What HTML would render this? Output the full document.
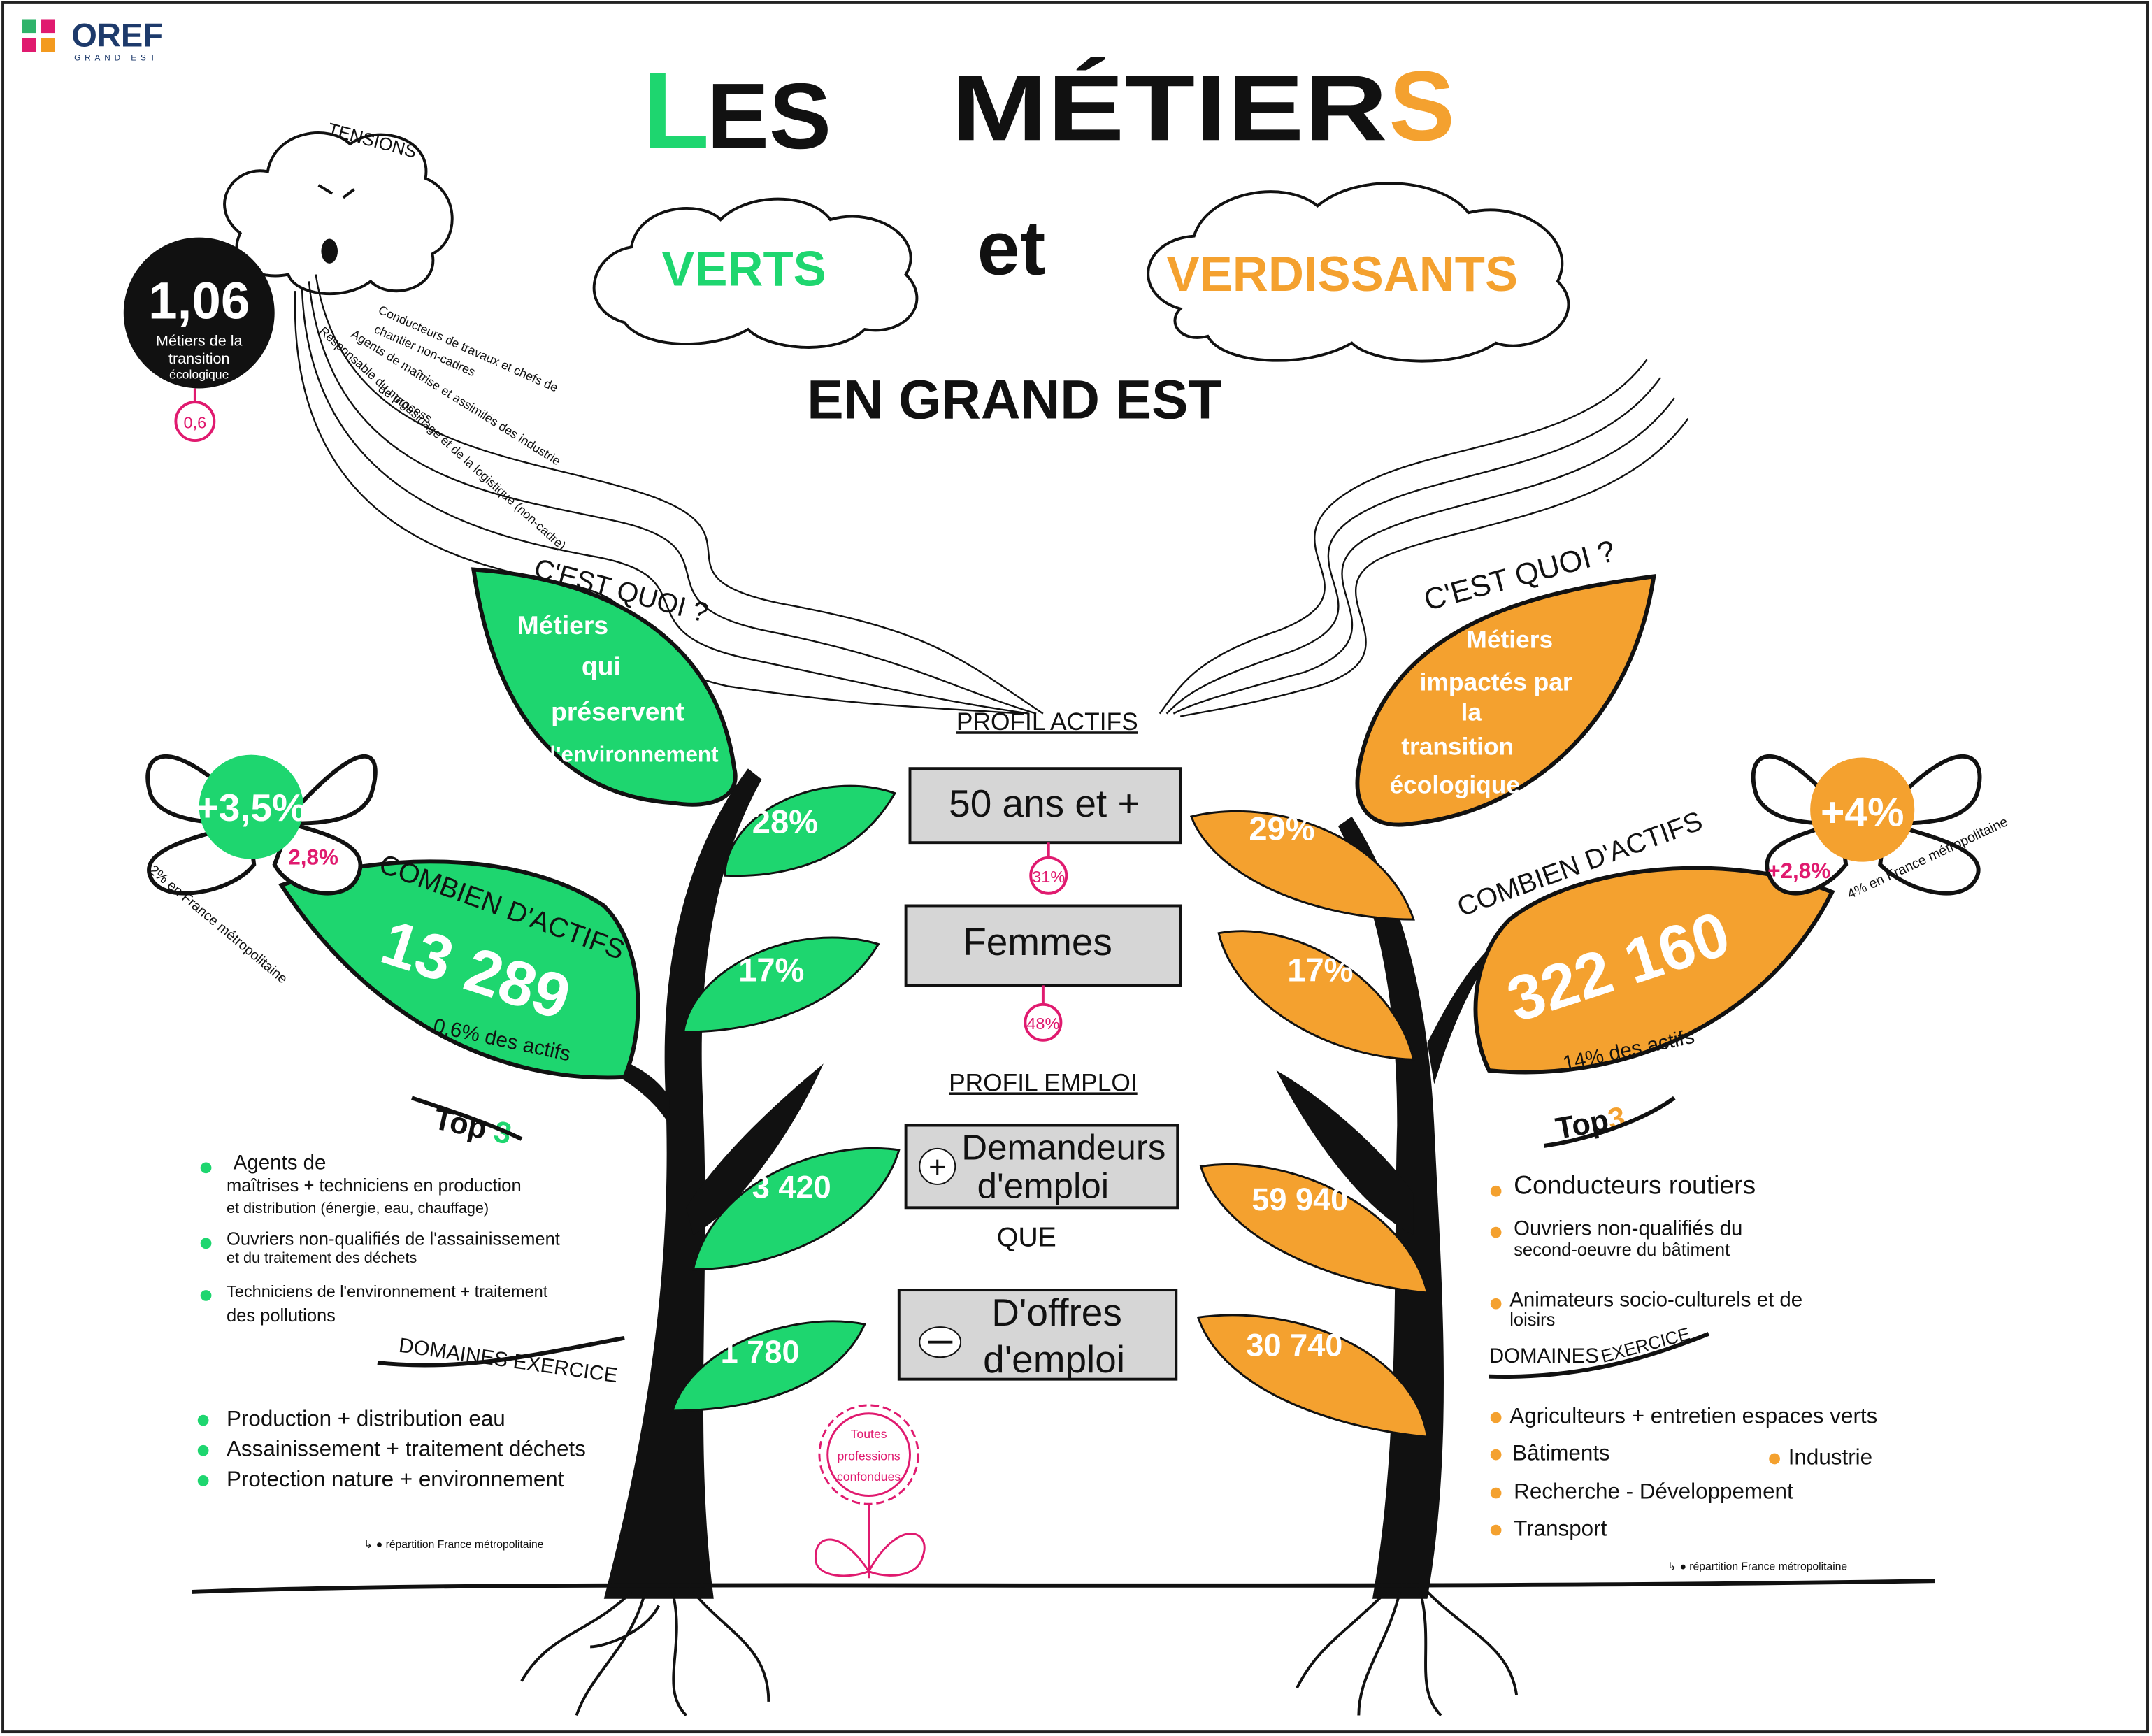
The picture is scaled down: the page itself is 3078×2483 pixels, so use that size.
<!DOCTYPE html>
<html><head><meta charset="utf-8">
<style>
html,body{margin:0;padding:0;background:#fff;}
svg{display:block;}
text{font-family:"Liberation Sans",sans-serif;}
</style></head>
<body>
<svg width="3078" height="2483" viewBox="0 0 1568 1265" xmlns="http://www.w3.org/2000/svg">
<rect x="0" y="0" width="1568" height="1265" fill="#fff"/>
<rect x="2" y="2" width="1563" height="1260" fill="none" stroke="#222" stroke-width="2"/>

<!-- logo -->
<rect x="16" y="14" width="10" height="10" fill="#2fb36a"/>
<rect x="30" y="14" width="10" height="10" fill="#e01a6f"/>
<rect x="16" y="28" width="10" height="10" fill="#e01a6f"/>
<rect x="30" y="28" width="10" height="10" fill="#f39a1e"/>
<text x="52" y="34" font-size="24" font-weight="bold" fill="#1d3a6b">OREF</text>
<text x="54" y="44" font-size="6" fill="#1d3a6b" letter-spacing="3">GRAND EST</text>

<!-- title -->
<text x="468" y="108" font-size="80" font-weight="bold" fill="#1ed66f">L</text>
<text x="515" y="108" font-size="68" font-weight="bold" fill="#111">ES</text>
<text x="693" y="102" font-size="68" font-weight="bold" fill="#111" textLength="318" lengthAdjust="spacingAndGlyphs">MÉTIER</text>
<text x="1012" y="102" font-size="72" font-weight="bold" fill="#f4a12f">S</text>

<!-- clouds -->
<path d="M455 235 C420 225 430 185 460 180 C465 150 510 145 525 160 C545 140 590 140 605 160 C640 150 675 175 660 200 C680 220 660 245 630 240 C610 260 560 255 545 240 C520 255 470 255 455 235 Z" fill="#fff" stroke="#111" stroke-width="2"/>
<text x="482" y="208" font-size="36" font-weight="bold" fill="#1ed66f">VERTS</text>
<text x="712" y="200" font-size="56" font-weight="bold" fill="#111">et</text>
<path d="M860 225 C825 215 830 175 870 172 C880 140 935 130 960 150 C990 125 1050 130 1070 155 C1110 145 1150 175 1135 205 C1160 230 1120 260 1090 250 C1060 270 1000 265 985 250 C950 270 890 265 880 245 C860 250 850 235 860 225 Z" fill="#fff" stroke="#111" stroke-width="2"/>
<text x="850" y="212" font-size="36" font-weight="bold" fill="#f4a12f">VERDISSANTS</text>
<text x="588" y="305" font-size="40" font-weight="bold" fill="#111">EN GRAND EST</text>

<!-- tension cloud -->
<path d="M175 170 C150 150 170 120 195 125 C200 95 240 90 255 105 C275 90 315 100 310 130 C335 140 335 175 315 185 C320 210 285 220 270 205 C250 220 215 215 210 200 C185 205 165 190 175 170 Z" fill="#fff" stroke="#111" stroke-width="2"/>
<text x="238" y="98" font-size="13" fill="#111" transform="rotate(15 238 98)">TENSIONS</text>
<ellipse cx="240" cy="183" rx="6" ry="9" fill="#111"/>
<path d="M232 135 l10 6 M258 138 l-8 6" stroke="#111" stroke-width="2"/>

<!-- wavy lines -->
<g fill="none" stroke="#111" stroke-width="1.2">
<path d="M230 200 C250 330 380 330 470 360 C560 390 470 420 570 440 C680 460 700 480 760 520"/>
<path d="M225 205 C240 350 360 360 450 380 C540 400 460 440 560 460 C660 480 690 500 755 520"/>
<path d="M220 210 C225 360 350 390 430 405 C520 420 450 460 545 480 C640 500 680 510 750 520"/>
<path d="M215 212 C210 380 330 410 410 425 C490 440 440 480 530 500 C630 515 670 515 745 520"/>
<path d="M1200 262 C1150 330 1040 320 980 360 C920 400 1010 430 930 460 C870 480 860 500 845 520"/>
<path d="M1210 275 C1160 345 1050 340 990 375 C930 410 1020 445 940 475 C880 495 865 505 850 520"/>
<path d="M1220 290 C1170 360 1060 360 1000 390 C940 420 1030 460 950 490 C895 505 870 512 855 520"/>
<path d="M1230 305 C1180 375 1070 380 1010 405 C950 430 1040 475 960 500 C905 515 880 518 860 522"/>
</g>
<g font-size="9" fill="#111">
<text x="275" y="228" transform="rotate(24 275 228)">Conducteurs de travaux et chefs de</text>
<text x="272" y="242" transform="rotate(24 272 242)">chantier non-cadres</text>
<text x="255" y="245" transform="rotate(32 255 245)">Agents de maîtrise et assimilés des industrie</text>
<text x="275" y="285" transform="rotate(32 275 285)">de process</text>
<text x="232" y="242" transform="rotate(42 232 242)">Responsable du magasinage et de la logistique (non-cadre)</text>
</g>

<!-- black circle -->
<circle cx="145" cy="228" r="55" fill="#111"/>
<text x="145" y="232" font-size="38" font-weight="bold" fill="#fff" text-anchor="middle">1,06</text>
<text x="145" y="252" font-size="11" fill="#fff" text-anchor="middle">Métiers de la</text>
<text x="145" y="265" font-size="11" fill="#fff" text-anchor="middle">transition</text>
<text x="145" y="276" font-size="9" fill="#fff" text-anchor="middle">écologique</text>
<line x1="142" y1="283" x2="142" y2="293" stroke="#e01a6f" stroke-width="2"/>
<circle cx="142" cy="307" r="14" fill="#fff" stroke="#e01a6f" stroke-width="2"/>
<text x="142" y="312" font-size="12" fill="#e01a6f" text-anchor="middle">0,6</text>

<!-- trunks -->
<path d="M440 1165 C470 1050 490 930 485 800 C480 700 500 620 545 560 L555 568 C520 630 508 710 512 800 C518 930 505 1050 520 1165 Z" fill="#111"/>
<path d="M488 800 C470 770 420 760 390 760 C430 770 470 790 488 820 Z" fill="#111"/>
<path d="M505 900 C540 880 580 820 600 775 C570 800 525 840 500 880 Z" fill="#111"/>
<path d="M1040 1165 C1060 1050 1050 930 1045 820 C1040 720 1020 650 985 595 L975 602 C1005 660 1018 730 1018 820 C1015 930 1020 1050 1000 1165 Z" fill="#111"/>
<path d="M1040 760 C1060 720 1080 690 1100 680 C1080 700 1060 740 1045 790 Z" fill="#111"/>
<path d="M1030 900 C990 880 950 820 930 780 C965 800 1010 840 1030 870 Z" fill="#111"/>

<!-- ground & roots -->
<path d="M140 1160 C400 1150 900 1160 1410 1152" stroke="#111" stroke-width="3" fill="none"/>
<g stroke="#111" stroke-width="2" fill="none">
<path d="M460 1160 C430 1190 400 1190 380 1225 M470 1160 C460 1200 430 1220 420 1250 M490 1160 C500 1200 480 1230 500 1250 M505 1160 C530 1190 560 1200 560 1240 M480 1170 C470 1190 440 1200 430 1200"/>
<path d="M1010 1160 C980 1190 960 1200 945 1230 M1020 1160 C1010 1200 990 1220 990 1250 M1035 1160 C1045 1200 1030 1230 1050 1250 M1040 1160 C1070 1190 1100 1200 1105 1235"/>
</g>

<!-- left leaves -->
<path d="M345 415 C420 420 520 450 535 560 C540 580 520 590 490 585 C410 580 360 520 345 415 Z" fill="#1ed66f" stroke="#111" stroke-width="3"/>
<g font-size="19" font-weight="bold" fill="#fff" text-anchor="middle">
<text x="410" y="462">Métiers</text><text x="438" y="492">qui</text><text x="450" y="525">préservent</text><text x="462" y="555" font-size="16">l'environnement</text></g>
<text x="388" y="420" font-size="20" fill="#111" transform="rotate(15 388 420)">C'EST QUOI ?</text>
<path d="M205 645 C280 620 380 620 440 660 C470 690 470 750 455 785 C350 790 260 730 205 645 Z" fill="#1ed66f" stroke="#111" stroke-width="3"/>
<text x="275" y="700" font-size="46" font-weight="bold" fill="#fff" transform="rotate(18 275 700)">13 289</text>
<text x="315" y="752" font-size="15" fill="#111" transform="rotate(12 315 752)">0,6% des actifs</text>
<text x="275" y="635" font-size="20" fill="#111" transform="rotate(20 275 635)">COMBIEN D'ACTIFS</text>
<path d="M528 638 C530 590 600 560 652 578 C625 625 575 640 528 638 Z" fill="#1ed66f" stroke="#111" stroke-width="1.5"/>
<text x="548" y="607" font-size="24" font-weight="bold" fill="#fff">28%</text>
<path d="M498 752 C505 705 580 670 640 688 C615 730 560 752 498 752 Z" fill="#1ed66f" stroke="#111" stroke-width="1.5"/>
<text x="538" y="715" font-size="24" font-weight="bold" fill="#fff">17%</text>
<path d="M505 925 C520 860 600 830 655 838 C640 890 570 925 505 925 Z" fill="#1ed66f" stroke="#111" stroke-width="1.5"/>
<text x="548" y="873" font-size="23" font-weight="bold" fill="#fff">3 420</text>
<path d="M490 1028 C505 980 580 955 630 965 C610 1010 550 1028 490 1028 Z" fill="#1ed66f" stroke="#111" stroke-width="1.5"/>
<text x="525" y="993" font-size="23" font-weight="bold" fill="#fff">1 780</text>

<!-- right leaves -->
<path d="M1205 420 C1130 430 1010 450 990 560 C985 590 1000 605 1030 600 C1120 590 1190 520 1205 420 Z" fill="#f4a12f" stroke="#111" stroke-width="3"/>
<g font-size="18" font-weight="bold" fill="#fff" text-anchor="middle">
<text x="1100" y="472">Métiers</text><text x="1090" y="503">impactés par</text><text x="1072" y="525">la</text><text x="1062" y="550">transition</text><text x="1060" y="578">écologique</text></g>
<text x="1040" y="445" font-size="22" fill="#111" transform="rotate(-15 1040 445)">C'EST QUOI ?</text>
<path d="M1335 650 C1260 620 1150 630 1100 670 C1070 700 1070 750 1085 780 C1190 790 1290 740 1335 650 Z" fill="#f4a12f" stroke="#111" stroke-width="3"/>
<text x="1105" y="745" font-size="46" font-weight="bold" fill="#fff" transform="rotate(-18 1105 745)">322 160</text>
<text x="1140" y="780" font-size="15" fill="#111" transform="rotate(-12 1140 780)">14% des actifs</text>
<text x="1065" y="668" font-size="20" fill="#111" transform="rotate(-20 1065 668)">COMBIEN D'ACTIFS</text>
<path d="M1030 670 C1010 610 930 580 868 595 C885 640 960 670 1030 670 Z" fill="#f4a12f" stroke="#111" stroke-width="1.5"/>
<text x="910" y="612" font-size="24" font-weight="bold" fill="#fff">29%</text>
<path d="M1030 772 C1015 710 940 670 888 680 C900 730 965 770 1030 772 Z" fill="#f4a12f" stroke="#111" stroke-width="1.5"/>
<text x="938" y="715" font-size="24" font-weight="bold" fill="#fff">17%</text>
<path d="M1040 942 C1025 880 940 840 875 850 C890 900 965 935 1040 942 Z" fill="#f4a12f" stroke="#111" stroke-width="1.5"/>
<text x="912" y="882" font-size="23" font-weight="bold" fill="#fff">59 940</text>
<path d="M1040 1047 C1030 985 945 950 873 960 C890 1010 965 1040 1040 1047 Z" fill="#f4a12f" stroke="#111" stroke-width="1.5"/>
<text x="908" y="988" font-size="23" font-weight="bold" fill="#fff">30 740</text>

<!-- center -->
<text x="763" y="532" font-size="18" fill="#111" text-anchor="middle" text-decoration="underline">PROFIL ACTIFS</text>
<rect x="663" y="560" width="197" height="54" fill="#d6d6d6" stroke="#111" stroke-width="2"/>
<text x="761" y="595" font-size="28" fill="#111" text-anchor="middle">50 ans et +</text>
<line x1="764" y1="614" x2="764" y2="625" stroke="#e01a6f" stroke-width="2"/>
<circle cx="764" cy="638" r="13" fill="#fff" stroke="#e01a6f" stroke-width="2"/>
<text x="764" y="643" font-size="12" fill="#e01a6f" text-anchor="middle">31%</text>
<rect x="660" y="660" width="200" height="58" fill="#d6d6d6" stroke="#111" stroke-width="2"/>
<text x="756" y="696" font-size="28" fill="#111" text-anchor="middle">Femmes</text>
<line x1="760" y1="718" x2="760" y2="732" stroke="#e01a6f" stroke-width="2"/>
<circle cx="760" cy="745" r="13" fill="#fff" stroke="#e01a6f" stroke-width="2"/>
<text x="760" y="750" font-size="12" fill="#e01a6f" text-anchor="middle">48%</text>
<text x="760" y="795" font-size="18" fill="#111" text-anchor="middle" text-decoration="underline">PROFIL EMPLOI</text>
<rect x="660" y="820" width="198" height="60" fill="#d6d6d6" stroke="#111" stroke-width="2"/>
<circle cx="683" cy="850" r="13" fill="#fff" stroke="#111" stroke-width="1"/>
<text x="683" y="858" font-size="22" fill="#111" text-anchor="middle">+</text>
<text x="775" y="845" font-size="26" fill="#111" text-anchor="middle">Demandeurs</text>
<text x="760" y="873" font-size="26" fill="#111" text-anchor="middle">d'emploi</text>
<text x="748" y="908" font-size="20" fill="#111" text-anchor="middle">QUE</text>
<rect x="655" y="940" width="202" height="65" fill="#d6d6d6" stroke="#111" stroke-width="2"/>
<ellipse cx="685" cy="978" rx="15" ry="11" fill="#fff" stroke="#111"/>
<line x1="676" y1="978" x2="694" y2="978" stroke="#111" stroke-width="2"/>
<text x="770" y="966" font-size="28" fill="#111" text-anchor="middle">D'offres</text>
<text x="768" y="1000" font-size="28" fill="#111" text-anchor="middle">d'emploi</text>

<!-- butterflies -->
<g stroke="#111" stroke-width="3" fill="#fff">
<path d="M180 590 C120 530 100 550 110 580 C120 600 160 600 180 600 C140 610 100 620 110 640 C120 660 170 650 185 630 Z"/>
<path d="M215 590 C270 530 280 550 270 580 C260 600 230 600 210 600 C250 610 270 620 260 640 C250 660 210 650 200 630 Z"/>
<path d="M1340 590 C1290 530 1270 550 1280 580 C1290 600 1320 600 1340 600 C1300 610 1280 620 1290 640 C1300 660 1330 650 1345 630 Z"/>
<path d="M1375 590 C1430 530 1450 550 1440 580 C1430 600 1400 600 1375 600 C1410 610 1450 620 1440 640 C1430 660 1390 650 1370 630 Z"/>
</g>
<circle cx="183" cy="588" r="38" fill="#1ed66f"/>
<text x="183" y="598" font-size="28" font-weight="bold" fill="#fff" text-anchor="middle">+3,5%</text>
<text x="210" y="630" font-size="16" font-weight="bold" fill="#e01a6f">2,8%</text>
<text x="108" y="635" font-size="10" fill="#111" transform="rotate(40 108 635)">2% en France métropolitaine</text>
<circle cx="1357" cy="590" r="38" fill="#f4a12f"/>
<text x="1357" y="602" font-size="30" font-weight="bold" fill="#fff" text-anchor="middle">+4%</text>
<text x="1288" y="640" font-size="16" font-weight="bold" fill="#e01a6f">+2,8%</text>
<text x="1348" y="655" font-size="10" fill="#111" transform="rotate(-25 1348 655)">4% en France métropolitaine</text>

<!-- left lists -->
<text x="315" y="822" font-size="22" font-weight="bold" fill="#111" transform="rotate(12 315 822)">Top <tspan fill="#1ed66f">3</tspan></text>
<path d="M300 800 C330 810 360 820 380 830" stroke="#111" stroke-width="3" fill="none"/>
<g font-size="13" fill="#111">
<circle cx="150" cy="851" r="4" fill="#1ed66f"/>
<text x="170" y="852" font-size="15">Agents de</text>
<text x="165" y="868">maîtrises + techniciens en production</text>
<text x="165" y="884" font-size="11">et distribution (énergie, eau, chauffage)</text>
<circle cx="150" cy="906" r="4" fill="#1ed66f"/>
<text x="165" y="907">Ouvriers non-qualifiés de l'assainissement</text>
<text x="165" y="920" font-size="11">et du traitement des déchets</text>
<circle cx="150" cy="944" r="4" fill="#1ed66f"/>
<text x="165" y="945" font-size="12">Techniciens de l'environnement + traitement</text>
<text x="165" y="963">des pollutions</text>
</g>
<text x="290" y="985" font-size="15" fill="#111" transform="rotate(8 290 985)">DOMAINES EXERCICE</text>
<path d="M275 993 C340 1000 400 985 455 975" stroke="#111" stroke-width="3" fill="none"/>
<g font-size="16" fill="#111">
<circle cx="148" cy="1035" r="4" fill="#1ed66f"/><text x="165" y="1039">Production + distribution eau</text>
<circle cx="148" cy="1057" r="4" fill="#1ed66f"/><text x="165" y="1061">Assainissement + traitement déchets</text>
<circle cx="148" cy="1079" r="4" fill="#1ed66f"/><text x="165" y="1083">Protection nature + environnement</text>
</g>
<text x="265" y="1128" font-size="8" fill="#111">↳ ● répartition France métropolitaine</text>

<!-- right lists -->
<text x="1135" y="830" font-size="22" font-weight="bold" fill="#111" transform="rotate(-10 1135 830)">Top<tspan fill="#f4a12f">3</tspan></text>
<path d="M1125 835 C1160 830 1200 815 1220 800" stroke="#111" stroke-width="3" fill="none"/>
<g font-size="15" fill="#111">
<circle cx="1090" cy="868" r="4" fill="#f4a12f"/><text x="1103" y="870" font-size="19">Conducteurs routiers</text>
<circle cx="1090" cy="898" r="4" fill="#f4a12f"/><text x="1103" y="900">Ouvriers non-qualifiés du</text>
<text x="1103" y="915" font-size="13">second-oeuvre du bâtiment</text>
<circle cx="1090" cy="950" r="4" fill="#f4a12f"/><text x="1100" y="952">Animateurs socio-culturels et de</text>
<text x="1100" y="966" font-size="13">loisirs</text>
</g>
<text x="1085" y="993" font-size="15" fill="#111">DOMAINES</text>
<text x="1168" y="993" font-size="13" fill="#111" transform="rotate(-15 1168 993)">EXERCICE</text>
<path d="M1085 1003 C1150 1005 1200 990 1245 972" stroke="#111" stroke-width="3" fill="none"/>
<g font-size="16" fill="#111">
<circle cx="1090" cy="1033" r="4" fill="#f4a12f"/><text x="1100" y="1037">Agriculteurs + entretien espaces verts</text>
<circle cx="1090" cy="1060" r="4" fill="#f4a12f"/><text x="1102" y="1064">Bâtiments</text>
<circle cx="1293" cy="1063" r="4" fill="#f4a12f"/><text x="1303" y="1067">Industrie</text>
<circle cx="1090" cy="1088" r="4" fill="#f4a12f"/><text x="1103" y="1092">Recherche - Développement</text>
<circle cx="1090" cy="1115" r="4" fill="#f4a12f"/><text x="1103" y="1119">Transport</text>
</g>
<text x="1215" y="1144" font-size="8" fill="#111">↳ ● répartition France métropolitaine</text>

<!-- flower -->
<g stroke="#e01a6f" stroke-width="1.5" fill="#fff">
<circle cx="633" cy="1060" r="36" stroke-dasharray="6 3"/>
<circle cx="633" cy="1060" r="30"/>
<path d="M633 1096 L633 1150" fill="none"/>
<path d="M633 1145 C610 1110 590 1120 595 1140 C600 1150 620 1150 633 1145 Z"/>
<path d="M633 1145 C655 1105 680 1115 672 1135 C668 1150 645 1150 633 1145 Z"/>
</g>
<text x="633" y="1048" font-size="9" fill="#e01a6f" text-anchor="middle">Toutes</text>
<text x="633" y="1064" font-size="9" fill="#e01a6f" text-anchor="middle">professions</text>
<text x="633" y="1079" font-size="9" fill="#e01a6f" text-anchor="middle">confondues</text>
</svg>
</body></html>
